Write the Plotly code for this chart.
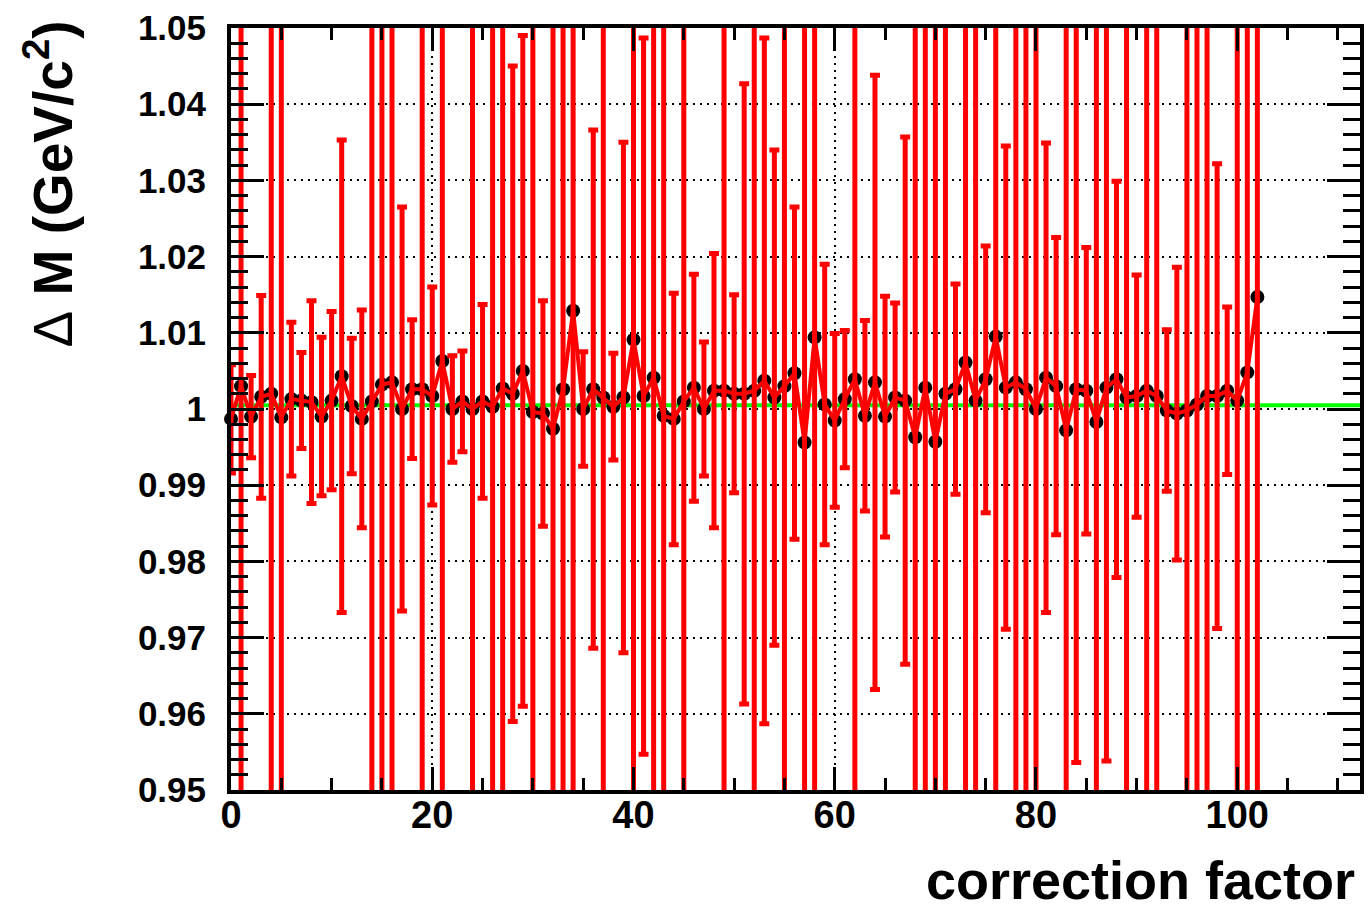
import plotly.graph_objects as go

# ---- data ----
correction_factor = list(range(0, 103))

delta_m = [
    0.9987, 1.0030, 0.9990, 1.0016, 1.0020, 0.9989, 1.0013, 1.0011, 1.0009, 0.9990,
    1.0011, 1.0043, 1.0004, 0.9987, 1.0010, 1.0032, 1.0035, 1.0000, 1.0026, 1.0026,
    1.0017, 1.0063, 1.0000, 1.0010, 1.0000, 1.0010, 1.0003, 1.0027, 1.0020, 1.0050,
    0.9996, 0.9994, 0.9974, 1.0026, 1.0129, 1.0000, 1.0026, 1.0015, 1.0003, 1.0015,
    1.0091, 1.0017, 1.0041, 0.9991, 0.9987, 1.0010, 1.0028, 1.0000, 1.0024, 1.0024,
    1.0020, 1.0020, 1.0024, 1.0037, 1.0015, 1.0030, 1.0047, 0.9956, 1.0094, 1.0006,
    0.9985, 1.0013, 1.0039, 0.9991, 1.0035, 0.9990, 1.0015, 1.0011, 0.9963, 1.0028,
    0.9957, 1.0020, 1.0026, 1.0061, 1.0011, 1.0039, 1.0095, 1.0028, 1.0035, 1.0026,
    1.0000, 1.0041, 1.0030, 0.9972, 1.0026, 1.0024, 0.9983, 1.0028, 1.0039, 1.0015,
    1.0017, 1.0024, 1.0017, 0.9998, 0.9994, 0.9998, 1.0006, 1.0017, 1.0017, 1.0024,
    1.0011, 1.0048, 1.0147,
]

# symmetric errors (values > 0.05 run off the visible range)
delta_m_err = [
    0.0071, 0.1000, 0.0054, 0.0133, 0.1000, 0.1000, 0.0101, 0.0063, 0.0133, 0.0104,
    0.0117, 0.0310, 0.0089, 0.0143, 0.1000, 0.1000, 0.1000, 0.0265, 0.0091, 0.1000,
    0.0143, 0.1000, 0.0070, 0.0066, 0.1000, 0.0127, 0.1000, 0.1000, 0.0430, 0.0440,
    0.1000, 0.0148, 0.1000, 0.1000, 0.1000, 0.0075, 0.0340, 0.1000, 0.0070, 0.0335,
    0.1000, 0.0470, 0.1000, 0.1000, 0.0165, 0.1000, 0.0149, 0.0088, 0.0180, 0.1000,
    0.0130, 0.0407, 0.1000, 0.0450, 0.0325, 0.1000, 0.0218, 0.1000, 0.1000, 0.0184,
    0.0114, 0.0090, 0.1000, 0.0125, 0.0403, 0.0158, 0.0124, 0.0346, 0.1000, 0.1000,
    0.1000, 0.1000, 0.0138, 0.1000, 0.1000, 0.0175, 0.1000, 0.0317, 0.1000, 0.1000,
    0.1000, 0.0308, 0.0195, 0.1000, 0.0490, 0.0188, 0.1000, 0.0490, 0.0260, 0.1000,
    0.0159, 0.1000, 0.1000, 0.0106, 0.0192, 0.1000, 0.1000, 0.1000, 0.0305, 0.0110,
    0.1000, 0.1000, 0.1000,
]

fit_level = 1.0005
x_range = [0, 112.2]
y_range = [0.95, 1.05]
y_tickvals = [0.95, 0.96, 0.97, 0.98, 0.99, 1.00, 1.01, 1.02, 1.03, 1.04, 1.05]
y_ticktext = ["0.95", "0.96", "0.97", "0.98", "0.99", "1", "1.01", "1.02", "1.03", "1.04", "1.05"]
x_tickvals = [0, 20, 40, 60, 80, 100]
x_ticktext = ["0", "20", "40", "60", "80", "100"]

FONT = "Liberation Sans, Arial, sans-serif"

fig = go.Figure()

# fit line (green)
fig.add_trace(go.Scatter(
    x=x_range, y=[fit_level, fit_level], mode="lines",
    line=dict(color="#00ff00", width=4), showlegend=False, hoverinfo="skip",
))

# black markers
fig.add_trace(go.Scatter(
    x=correction_factor, y=delta_m, mode="markers",
    marker=dict(color="black", size=14, symbol="circle"),
    cliponaxis=False, showlegend=False,
))

# red line + error bars on top
fig.add_trace(go.Scatter(
    x=correction_factor, y=delta_m, mode="lines",
    line=dict(color="#ff0000", width=4),
    error_y=dict(type="data", array=delta_m_err, visible=True,
                 color="#ff0000", thickness=5, width=5),
    showlegend=False,
))

# page body has an 8px margin; size the figure to fit the 1372x917 window
fig.update_layout(
    width=1356, height=901,
    margin=dict(l=223, r=0, t=12, b=119),
    paper_bgcolor="white", plot_bgcolor="white",
    font=dict(family=FONT, color="black"),
)

fig.update_xaxes(
    range=x_range, tickvals=x_tickvals, ticktext=x_ticktext,
    ticks="inside", ticklen=23, tickwidth=3, tickcolor="black",
    minor=dict(dtick=5, tick0=0, ticks="inside", ticklen=12, tickwidth=3,
               tickcolor="black", showgrid=False),
    showline=True, linecolor="black", linewidth=4, mirror="allticks",
    showgrid=True, gridcolor="black", gridwidth=1.5, griddash="2px,5px",
    zeroline=False,
    tickfont=dict(family=FONT, size=38, weight="bold"),
    ticklabelstandoff=-12, ticklabeloverflow="allow",
)

fig.update_yaxes(
    range=y_range, tickvals=y_tickvals, ticktext=y_ticktext,
    ticks="inside", ticklen=33, tickwidth=3, tickcolor="black",
    minor=dict(dtick=0.002, tick0=0.95, ticks="inside", ticklen=17, tickwidth=3,
               tickcolor="black", showgrid=False),
    showline=True, linecolor="black", linewidth=4, mirror="allticks",
    showgrid=True, gridcolor="black", gridwidth=1.5, griddash="2px,5px",
    zeroline=False,
    tickfont=dict(family=FONT, size=35, weight="bold"),
    ticklabelstandoff=14, ticklabeloverflow="allow",
)

fig.add_annotation(
    text="correction factor", xref="paper", yref="paper",
    x=1.0, y=-0.118, xanchor="right", yanchor="middle", showarrow=False,
    xshift=-3,
    font=dict(family=FONT, size=54, weight="bold", color="black"),
)

fig.add_annotation(
    text="<span style=\"font-weight:normal\">Δ</span> M (GeV/c<sup>2</sup>)",
    xref="paper", yref="paper",
    x=-0.161, y=0.795, xanchor="center", yanchor="middle", textangle=-90,
    showarrow=False,
    font=dict(family=FONT, size=55, weight="bold", color="black"),
)

fig.write_html("out.html")
